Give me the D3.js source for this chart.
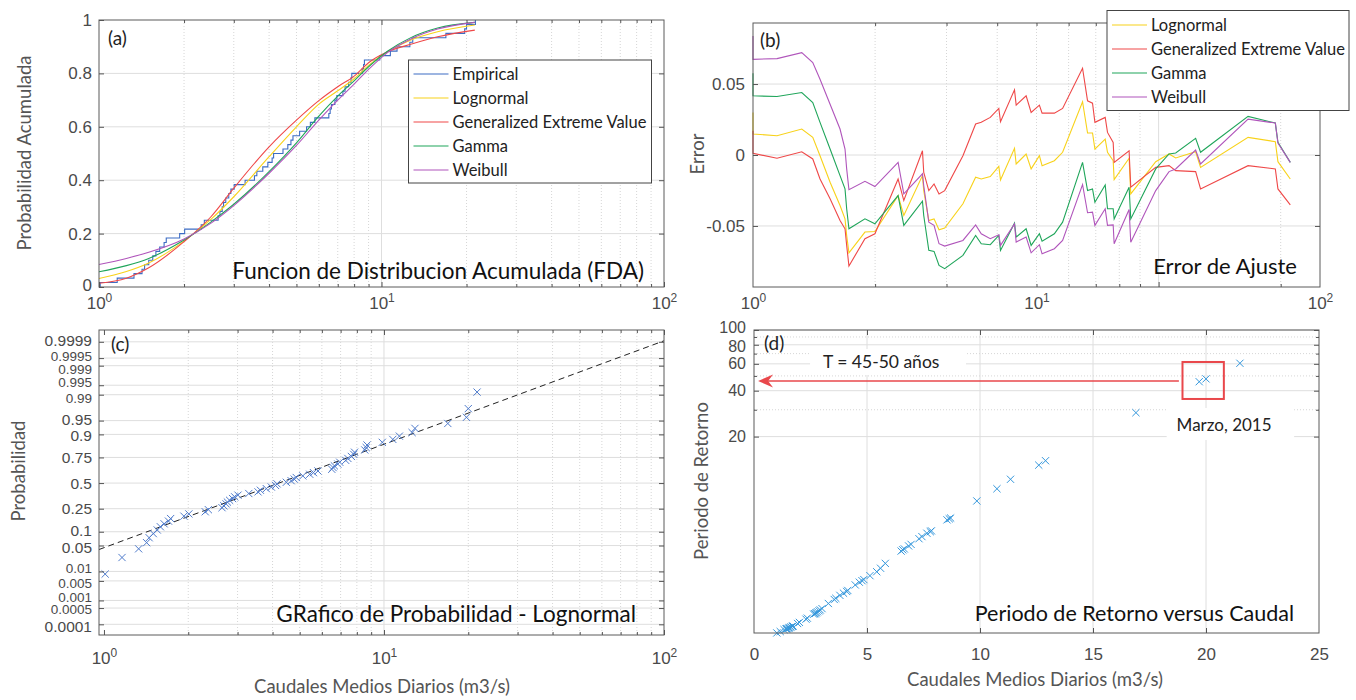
<!DOCTYPE html>
<html lang="es">
<head>
<meta charset="UTF-8">
<title>Caudales medios diarios - ajuste de distribuciones</title>
<script src="https://d3js.org/d3.v7.min.js"></script>
<style>
    body { margin: 0; background: #fff; }
    svg { display: block; font-family: Lato, "Open Sans", sans-serif; }
    .tick text { font-size: 17px; fill: #4a4a4a; }
    .tick line { stroke: #555; }
    .axis-title { font-size: 18.5px; fill: #555; }
    .panel-title { font-size: 22px; fill: #111; }
    .panel-tag { font-size: 19px; fill: #222; }
    .grid-major { stroke: #dedede; stroke-width: 1; }
    .grid-minor { stroke: #d6d6d6; stroke-width: 1; stroke-dasharray: 1,2; }
    .frame { fill: none; stroke: #5a5a5a; stroke-width: 1; }
    .legend-box { fill: #fff; stroke: #444; stroke-width: 1; }
    .legend text { font-size: 16.5px; fill: #222; }
</style>
</head>
<body>
<svg width="1356" height="700"></svg>
<script>
// ---- data ----
// sorted daily mean flows (m3/s)
const flows = [1.01, 1.16, 1.33, 1.42, 1.45, 1.50, 1.55, 1.59, 1.64, 1.70, 1.73, 1.93, 2.01, 2.30, 2.36,
    2.64, 2.68, 2.73, 2.76, 2.81, 2.88, 2.93, 3.01, 3.29, 3.55, 3.62, 3.80, 3.96, 4.10, 4.15,
    4.48, 4.66, 4.78, 4.86, 5.13, 5.43, 5.60, 5.81, 6.51, 6.58, 6.65, 6.84, 6.95, 7.30, 7.43,
    7.65, 7.80, 7.85, 8.54, 8.64, 8.70, 9.86, 10.75, 11.35, 12.6, 12.9, 16.9, 19.7, 20.0, 21.5];
// empirical cdf at each flow
const ecdf = [0.0167, 0.0333, 0.05, 0.0667, 0.0833, 0.1, 0.1167, 0.1333, 0.15, 0.1667, 0.1833, 0.2, 0.2167, 0.2333, 0.25,
    0.2667, 0.2833, 0.3, 0.3167, 0.3333, 0.35, 0.3667, 0.3833, 0.4, 0.4167, 0.4333, 0.45, 0.4667, 0.4833, 0.5,
    0.5167, 0.5333, 0.55, 0.5667, 0.5833, 0.6, 0.6167, 0.6333, 0.65, 0.6667, 0.6833, 0.7, 0.7167, 0.7333, 0.75,
    0.7667, 0.7833, 0.8, 0.8167, 0.8333, 0.85, 0.8667, 0.8833, 0.9, 0.9167, 0.9333, 0.95, 0.9667, 0.9833, 1.0];
// plotting positions used in the probability plot
const plotProb = [0.0083, 0.025, 0.0417, 0.0583, 0.075, 0.0917, 0.1083, 0.125, 0.1417, 0.1583, 0.175, 0.1917, 0.2083, 0.225, 0.2417,
    0.2583, 0.275, 0.2917, 0.3083, 0.325, 0.3417, 0.3583, 0.375, 0.3917, 0.4083, 0.425, 0.4417, 0.4583, 0.475, 0.4917,
    0.5083, 0.525, 0.5417, 0.5583, 0.575, 0.5917, 0.6083, 0.625, 0.6417, 0.6583, 0.675, 0.6917, 0.7083, 0.725, 0.7417,
    0.7583, 0.775, 0.7917, 0.8083, 0.825, 0.8417, 0.8583, 0.875, 0.8917, 0.9083, 0.925, 0.9417, 0.9583, 0.975, 0.9917];
// return period (years) for each flow
const returnPeriods = [1.032, 1.054, 1.085, 1.096, 1.10, 1.105, 1.113, 1.12, 1.13, 1.14, 1.145, 1.19, 1.21, 1.27, 1.29,
    1.37, 1.38, 1.39, 1.40, 1.42, 1.44, 1.46, 1.49, 1.61, 1.71, 1.74, 1.82, 1.88, 1.93, 1.96,
    2.13, 2.22, 2.27, 2.31, 2.45, 2.60, 2.74, 2.95, 3.55, 3.62, 3.67, 3.84, 3.93, 4.28, 4.42,
    4.65, 4.76, 4.82, 5.69, 5.78, 5.85, 7.57, 9.1, 10.5, 13.0, 13.9, 28.7, 45.8, 47.8, 60.5];

// fitted cdfs (panel a)
const cdfX         = [1, 1.25, 1.5, 2, 2.5, 3, 4, 5, 6, 7, 8, 9, 10.5, 12.7, 15.8, 21.4];
const cdfLognormal = [0.032, 0.058, 0.090, 0.172, 0.255, 0.338, 0.488, 0.600, 0.685, 0.735, 0.780, 0.830, 0.881, 0.925, 0.956, 0.981];
const cdfGEV       = [0.014, 0.033, 0.072, 0.170, 0.265, 0.370, 0.525, 0.625, 0.698, 0.750, 0.790, 0.840, 0.881, 0.909, 0.937, 0.962];
const cdfGamma     = [0.057, 0.080, 0.107, 0.176, 0.245, 0.310, 0.432, 0.540, 0.640, 0.715, 0.772, 0.825, 0.883, 0.934, 0.970, 0.991];
const cdfWeibull   = [0.084, 0.107, 0.130, 0.180, 0.240, 0.305, 0.426, 0.530, 0.625, 0.700, 0.760, 0.815, 0.878, 0.929, 0.966, 0.991];

// fit errors (panel b)
const errX = [1.0, 1.0, 1.146, 1.319, 1.404, 1.463, 1.549, 1.639, 1.686, 1.702, 1.724, 1.888, 1.998, 2.279, 2.354,
    2.617, 2.636, 2.713, 2.795, 2.875, 2.969, 3.293, 3.539, 3.654, 3.846, 4.037, 4.076, 4.413, 4.455, 4.714,
    4.850, 5.083, 5.161, 5.534, 5.799, 6.494, 6.681, 6.872, 6.966, 7.385, 7.482, 7.727, 7.770, 8.458, 8.538,
    9.838, 10.61, 11.02, 12.34, 12.69, 16.62, 19.40, 19.69, 21.12];
const errLognormal = [0.0300, 0.0148, 0.0136, 0.0183, 0.0124, -0.0005, -0.0192, -0.0356, -0.0450, -0.0567, -0.0689, -0.0543, -0.0539, -0.0286, -0.0426,
    -0.0145, -0.0251, -0.0461, -0.0450, -0.0527, -0.0515, -0.0344, -0.0157, -0.0169, -0.0152, -0.0080, -0.0176, 0.0047, -0.0063, 0.0007,
    -0.0098, -0.0005, -0.0075, -0.0040, 0.0019, 0.0375, 0.0155, 0.0155, 0.0042, 0.0112, 0.0019, -0.0040, -0.0173, -0.0023, -0.0274,
    -0.0047, 0.0007, -0.0021, 0.0023, -0.0087, 0.0124, 0.0094, -0.0047, -0.0169];
const errGEV = [0.0171, 0.0012, -0.0023, 0.0023, -0.0028, -0.0169, -0.0309, -0.0461, -0.0520, -0.0637, -0.0782, -0.0590, -0.0555, -0.0169, -0.0321,
    0.0030, -0.0122, -0.0251, -0.0204, -0.0274, -0.0251, -0.0005, 0.0218, 0.0230, 0.0265, 0.0328, 0.0234, 0.0459, 0.0351, 0.0417,
    0.0300, 0.0351, 0.0295, 0.0295, 0.0328, 0.0611, 0.0382, 0.0365, 0.0230, 0.0265, 0.0159, 0.0089, -0.0052, 0.0030, -0.0227,
    -0.0087, -0.0075, -0.0110, -0.0117, -0.0239, -0.0075, -0.0098, -0.0239, -0.0351];
const errGamma = [0.0576, 0.0417, 0.0412, 0.0440, 0.0370, 0.0230, 0.0042, -0.0145, -0.0239, -0.0379, -0.0520, -0.0450, -0.0485, -0.0286, -0.0496,
    -0.0326, -0.0426, -0.0672, -0.0679, -0.0778, -0.0801, -0.0707, -0.0567, -0.0625, -0.0632, -0.0567, -0.0672, -0.0480, -0.0578, -0.0520,
    -0.0637, -0.0555, -0.0607, -0.0555, -0.0473, -0.0052, -0.0251, -0.0239, -0.0333, -0.0211, -0.0379, -0.0379, -0.0450, -0.0227, -0.0450,
    -0.0098, 0.0007, 0.0014, 0.0117, 0.0019, 0.0272, 0.0225, 0.0089, -0.0052];
const errWeibull = [0.0838, 0.0674, 0.0679, 0.0721, 0.0651, 0.0534, 0.0358, 0.0183, 0.0042, -0.0098, -0.0244, -0.0185, -0.0222, -0.0052, -0.0274,
    -0.0133, -0.0215, -0.0473, -0.0496, -0.0625, -0.0642, -0.0602, -0.0492, -0.0555, -0.0590, -0.0562, -0.0637, -0.0485, -0.0614, -0.0578,
    -0.0689, -0.0632, -0.0696, -0.0660, -0.0602, -0.0208, -0.0407, -0.0403, -0.0496, -0.0379, -0.0496, -0.0492, -0.0625, -0.0384, -0.0614,
    -0.0251, -0.0117, -0.0098, 0.0035, -0.0063, 0.0253, 0.0225, 0.0084, -0.0052];

// reference lognormal line of the probability plot
const fitFlow = [0.96, 100];
const fitProb = [0.0401, 0.99991];

const probTicks = [0.0001, 0.0005, 0.001, 0.005, 0.01, 0.05, 0.1, 0.25, 0.5, 0.75, 0.9, 0.95, 0.99, 0.995, 0.999, 0.9995, 0.9999];
const periodTicks = [20, 40, 60, 80, 100];
const periodMinor = [30, 50, 70, 90];
const legendA = ["Empirical", "Lognormal", "Generalized Extreme Value", "Gamma", "Weibull"];
const legendB = ["Lognormal", "Generalized Extreme Value", "Gamma", "Weibull"];

const colEmp = "#3d6cc4", colLog = "#f8d21a", colGev = "#ef4848", colGam = "#1fa55a", colWei = "#b055bb";

// ---- helpers ----
const svg = d3.select("svg");
const logMinor = [2, 3, 4, 5, 6, 7, 8, 9, 20, 30, 40, 50, 60, 70, 80, 90];

function probit(p) {
    const a = [-39.69683028665376, 220.9460984245205, -275.9285104469687, 138.3577518672690, -30.66479806614716, 2.506628277459239];
    const b = [-54.47609879822406, 161.5858368580409, -155.6989798598866, 66.80131188771972, -13.28068155288572];
    const c = [-0.007784894002430293, -0.3223964580411365, -2.400758277161838, -2.549732539343734, 4.374664141464968, 2.938163982698783];
    const d = [0.007784695709041462, 0.3224671290700398, 2.445134137142996, 3.754408661907416];
    let q, r;
    if (p < 0.02425) {
        q = Math.sqrt(-2 * Math.log(p));
        return (((((c[0] * q + c[1]) * q + c[2]) * q + c[3]) * q + c[4]) * q + c[5]) / ((((d[0] * q + d[1]) * q + d[2]) * q + d[3]) * q + 1);
    }
    if (p > 1 - 0.02425) {
        q = Math.sqrt(-2 * Math.log(1 - p));
        return -(((((c[0] * q + c[1]) * q + c[2]) * q + c[3]) * q + c[4]) * q + c[5]) / ((((d[0] * q + d[1]) * q + d[2]) * q + d[3]) * q + 1);
    }
    q = p - 0.5; r = q * q;
    return (((((a[0] * r + a[1]) * r + a[2]) * r + a[3]) * r + a[4]) * r + a[5]) * q / (((((b[0] * r + b[1]) * r + b[2]) * r + b[3]) * r + b[4]) * r + 1);
}

// tick marks (inward) + optional labels through d3 axes
function axisTicks(g, axisFn, scale, values, size, tx, ty, fmt, pad) {
    const ax = axisFn(scale).tickValues(values).tickSize(-size).tickSizeOuter(0).tickPadding(pad || 6);
    ax.tickFormat(fmt || (() => ""));
    const sel = g.append("g").attr("transform", `translate(${tx},${ty})`).call(ax);
    sel.select(".domain").remove();
    return sel;
}

function powLabels(sel) {
    sel.selectAll(".tick text").text(null).each(function(d) {
        const t = d3.select(this);
        t.append("tspan").text("10");
        t.append("tspan").attr("dy", "-0.55em").attr("font-size", "12px").text(Math.round(Math.log10(d)));
    });
}

function frame(g, box) {
    g.append("rect").attr("class", "frame")
        .attr("x", box.l).attr("y", box.t)
        .attr("width", box.r - box.l).attr("height", box.b - box.t);
}

function legend(g, x, y, w, h, items, colors, y0, dy) {
    const lg = g.append("g").attr("class", "legend");
    lg.append("rect").attr("class", "legend-box").attr("x", x).attr("y", y).attr("width", w).attr("height", h);
    items.forEach((name, i) => {
        const yy = y0 + i * dy;
        lg.append("line").attr("x1", x + 5).attr("x2", x + 40).attr("y1", yy).attr("y2", yy)
            .attr("stroke", colors[i]).attr("stroke-width", 1.2);
        lg.append("text").attr("x", x + 44).attr("y", yy).attr("dy", "0.35em").text(name);
    });
}

function crosses(g, pts, color, s) {
    g.append("g").selectAll("path").data(pts).enter().append("path")
        .attr("d", d => `M${d[0] - s},${d[1] - s}L${d[0] + s},${d[1] + s}M${d[0] - s},${d[1] + s}L${d[0] + s},${d[1] - s}`)
        .attr("stroke", color).attr("stroke-width", 1).attr("fill", "none");
}

function rotLabel(x, y, txt) {
    svg.append("text").attr("class", "axis-title").attr("text-anchor", "middle")
        .attr("transform", `translate(${x},${y}) rotate(-90)`).text(txt);
}

// ================= (a) =================
const A = {l: 99, r: 664, t: 20, b: 287};
const xA = d3.scaleLog().domain([1, 100]).range([A.l, A.r]);
const yA = d3.scaleLinear().domain([0, 1]).range([A.b, A.t]);
const gA = svg.append("g");

gA.selectAll(".gx").data(logMinor).enter().append("line").attr("class", "grid-minor")
    .attr("x1", d => xA(d)).attr("x2", d => xA(d)).attr("y1", A.t).attr("y2", A.b);
gA.append("line").attr("class", "grid-major").attr("x1", xA(10)).attr("x2", xA(10)).attr("y1", A.t).attr("y2", A.b);
gA.selectAll(".gy").data([0.2, 0.4, 0.6, 0.8]).enter().append("line").attr("class", "grid-major")
    .attr("x1", A.l).attr("x2", A.r).attr("y1", d => yA(d)).attr("y2", d => yA(d));

const lineA = d3.line().x(d => xA(d[0])).y(d => yA(d[1])).curve(d3.curveMonotoneX);
const empPts = [[flows[0], 0]].concat(flows.map((f, i) => [f, ecdf[i]]));
gA.append("path").datum(empPts)
    .attr("d", d3.line().x(d => xA(d[0])).y(d => yA(d[1])).curve(d3.curveStepAfter))
    .attr("fill", "none").attr("stroke", colEmp).attr("stroke-width", 1.1);
[[cdfLognormal, colLog], [cdfGEV, colGev], [cdfGamma, colGam], [cdfWeibull, colWei]].forEach(([vals, col]) => {
    gA.append("path").datum(cdfX.map((x, i) => [x, vals[i]]))
        .attr("d", lineA).attr("fill", "none").attr("stroke", col).attr("stroke-width", 1.1);
});

frame(gA, A);
axisTicks(gA, d3.axisBottom, xA, logMinor, 3, 0, A.b);
axisTicks(gA, d3.axisTop, xA, logMinor, 3, 0, A.t);
powLabels(axisTicks(gA, d3.axisBottom, xA, [1, 10, 100], 5, 0, A.b, d => d, 10));
axisTicks(gA, d3.axisTop, xA, [10], 5, 0, A.t);
const aLeft = axisTicks(gA, d3.axisLeft, yA, [0, 0.2, 0.4, 0.6, 0.8, 1], 5, A.l, 0, d3.format("~g"), 7);
aLeft.selectAll(".tick text").filter(d => d === 0).attr("y", -2);
axisTicks(gA, d3.axisRight, yA, [0.2, 0.4, 0.6, 0.8], 5, A.r, 0);

legend(gA, 408.5, 60, 243, 123, legendA, [colEmp, colLog, colGev, colGam, colWei], 74, 24);
gA.append("text").attr("class", "panel-tag").attr("x", 108).attr("y", 45).text("(a)");
gA.append("text").attr("class", "panel-title").attr("text-anchor", "end").attr("x", 644).attr("y", 279)
    .style("font-size", "22.5px").text("Funcion de Distribucion Acumulada (FDA)");
rotLabel(31, 153, "Probabilidad Acumulada");

// ================= (b) =================
const B = {l: 753, r: 1320, t: 23, b: 287};
const xB = d3.scaleLog().domain([1, 25]).range([B.l, B.r]);
const xBlab = d3.scaleLog().domain([1, 100]).range([B.l, B.r]);
const yB = d3.scaleLinear().domain([-0.093, 0.093]).range([B.b, B.t]);
const gB = svg.append("g");
const minorB = [2, 3, 4, 5, 6, 7, 8, 9, 20];

gB.selectAll(".gx").data(minorB).enter().append("line").attr("class", "grid-minor")
    .attr("x1", d => xB(d)).attr("x2", d => xB(d)).attr("y1", B.t).attr("y2", B.b);
gB.append("line").attr("class", "grid-major").attr("x1", xB(10)).attr("x2", xB(10)).attr("y1", B.t).attr("y2", B.b);
gB.selectAll(".gy").data([-0.05, 0, 0.05]).enter().append("line").attr("class", "grid-major")
    .attr("x1", B.l).attr("x2", B.r).attr("y1", d => yB(d)).attr("y2", d => yB(d));

const lineB = d3.line().x(d => xB(d[0])).y(d => yB(d[1]));
[[errLognormal, colLog], [errGEV, colGev], [errGamma, colGam], [errWeibull, colWei]].forEach(([vals, col]) => {
    gB.append("path").datum(errX.map((x, i) => [x, vals[i]]))
        .attr("d", lineB).attr("fill", "none").attr("stroke", col).attr("stroke-width", 1.1);
});

frame(gB, B);
axisTicks(gB, d3.axisBottom, xB, minorB, 3, 0, B.b);
axisTicks(gB, d3.axisTop, xB, minorB, 3, 0, B.t);
axisTicks(gB, d3.axisBottom, xB, [10], 5, 0, B.b);
axisTicks(gB, d3.axisTop, xB, [10], 5, 0, B.t);
powLabels(axisTicks(gB, d3.axisBottom, xBlab, [1, 10, 100], 0, 0, B.b, d => d, 10));
axisTicks(gB, d3.axisLeft, yB, [-0.05, 0, 0.05], 5, B.l, 0, d => d === 0 ? "0" : d3.format(".2f")(d).replace("\u2212", "-"), 8);
axisTicks(gB, d3.axisRight, yB, [-0.05, 0, 0.05], 5, B.r, 0);

legend(gB, 1107, 10.5, 242, 100, legendB, [colLog, colGev, colGam, colWei], 25, 24);
gB.append("text").attr("class", "panel-tag").attr("x", 760).attr("y", 47).text("(b)");
gB.append("text").attr("class", "panel-title").attr("text-anchor", "end").attr("x", 1297).attr("y", 274)
    .text("Error de Ajuste");
rotLabel(704, 154, "Error");

// ================= (c) =================
const C = {l: 99, r: 664, t: 330, b: 635};
const xC = d3.scaleLog().domain([0.96, 100]).range([C.l, C.r]);
const zC = d3.scaleLinear().domain([-4.0, 4.03]).range([C.b, C.t]);
const yC = p => zC(probit(p));
const gC = svg.append("g");

gC.selectAll(".gx").data(logMinor).enter().append("line").attr("class", "grid-minor")
    .attr("x1", d => xC(d)).attr("x2", d => xC(d)).attr("y1", C.t).attr("y2", C.b);
gC.append("line").attr("class", "grid-major").attr("x1", xC(10)).attr("x2", xC(10)).attr("y1", C.t).attr("y2", C.b);
gC.selectAll(".gy").data(probTicks).enter().append("line").attr("class", "grid-major")
    .attr("x1", C.l).attr("x2", C.r).attr("y1", d => yC(d)).attr("y2", d => yC(d));

gC.append("path").datum(fitFlow.map((x, i) => [x, fitProb[i]]))
    .attr("d", d3.line().x(d => xC(d[0])).y(d => yC(d[1])))
    .attr("fill", "none").attr("stroke", "#222").attr("stroke-width", 1).attr("stroke-dasharray", "6,4");
crosses(gC, flows.map((f, i) => [xC(f), yC(plotProb[i])]), "#4f7bcb", 3.6);

frame(gC, C);
const zTicks = probTicks.map(probit);
axisTicks(gC, d3.axisBottom, xC, logMinor, 3, 0, C.b);
axisTicks(gC, d3.axisTop, xC, logMinor, 3, 0, C.t);
powLabels(axisTicks(gC, d3.axisBottom, xC, [1, 10, 100], 5, 0, C.b, d => d, 17));
axisTicks(gC, d3.axisTop, xC, [1, 10, 100], 5, 0, C.t);
const cLeft = axisTicks(gC, d3.axisLeft, zC, zTicks, 5, C.l, 0, (d, i) => String(probTicks[i]), 7);
axisTicks(gC, d3.axisRight, zC, zTicks, 5, C.r, 0);
// tightly packed tick labels: nudge apart and shrink a little
const labelShift = {0.9999: -1.5, 0.9995: -1.5, 0.999: 3.5, 0.995: -3, 0.99: 3, 0.95: -1.5, 0.9: 1.5,
    0.1: -1, 0.05: 1.5, 0.01: -3, 0.005: 2.5, 0.001: -3.5, 0.0005: 1.5, 0.0001: 2};
const labelSmall = [0.9995, 0.999, 0.995, 0.99, 0.01, 0.005, 0.001, 0.0005];
cLeft.selectAll(".tick text").each(function(d, i) {
    const p = probTicks[i];
    const t = d3.select(this).style("font-size", labelSmall.includes(p) ? "13.5px" : "15.5px");
    if (labelShift[p] !== undefined) t.attr("y", labelShift[p]);
});

gC.append("text").attr("class", "panel-tag").attr("x", 111).attr("y", 351).text("(c)");
gC.append("text").attr("class", "panel-title").attr("text-anchor", "end").attr("x", 636).attr("y", 622)
    .style("font-size", "22.5px").text("GRafico de Probabilidad - Lognormal");
rotLabel(25, 471, "Probabilidad");
svg.append("text").attr("class", "axis-title").attr("text-anchor", "middle").attr("x", 382).attr("y", 693)
    .text("Caudales Medios Diarios (m3/s)");

// ================= (d) =================
const D = {l: 754, r: 1319, t: 330, b: 633};
const xD = d3.scaleLinear().domain([0, 25]).range([D.l, D.r]);
const yD = d3.scaleLog().domain([1.031, 100]).range([D.b, D.t]);
const gD = svg.append("g");

gD.selectAll(".gx").data([5, 10, 15, 20]).enter().append("line").attr("class", "grid-major")
    .attr("x1", d => xD(d)).attr("x2", d => xD(d)).attr("y1", D.t).attr("y2", D.b);
gD.selectAll(".gy").data(periodTicks).enter().append("line").attr("class", "grid-major")
    .attr("x1", D.l).attr("x2", D.r).attr("y1", d => yD(d)).attr("y2", d => yD(d));
gD.selectAll(".gm").data(periodMinor).enter().append("line").attr("class", "grid-minor")
    .attr("x1", D.l).attr("x2", D.r).attr("y1", d => yD(d)).attr("y2", d => yD(d));

// annotation backgrounds (in data units)
const noteT = {x0: 2.48, x1: 9.38, t0: 75, t1: 50.7, tx: 3.05, ty: 56.4, size: 17.5, text: "T = 45-50 años"};
const noteM = {x0: 18.26, x1: 23.9, t0: 30.8, t1: 19.0, tx: 18.7, ty: 21.8, size: 17, text: "Marzo, 2015"};
[noteT, noteM].forEach(n => {
    gD.append("rect").attr("x", xD(n.x0)).attr("y", yD(n.t0))
        .attr("width", xD(n.x1) - xD(n.x0)).attr("height", yD(n.t1) - yD(n.t0)).attr("fill", "#fff");
    gD.append("text").attr("x", xD(n.tx)).attr("y", yD(n.ty))
        .attr("font-size", n.size).attr("fill", "#222").text(n.text);
});

crosses(gD, flows.map((f, i) => [xD(f), yD(returnPeriods[i])]), "#3497dc", 3.6);

// highlighted event and arrow to the axis
const eventBox = {x0: 18.96, x1: 20.79, t0: 61.7, t1: 35.3};
const arrowT = 46.3, arrowFrom = 18.8, arrowTo = 0.18;
gD.append("rect").attr("x", xD(eventBox.x0)).attr("y", yD(eventBox.t0))
    .attr("width", xD(eventBox.x1) - xD(eventBox.x0)).attr("height", yD(eventBox.t1) - yD(eventBox.t0))
    .attr("fill", "none").attr("stroke", "#e9474b").attr("stroke-width", 2);
const ay = yD(arrowT), ax0 = xD(arrowTo);
gD.append("line").attr("x1", xD(arrowFrom)).attr("x2", ax0 + 8).attr("y1", ay).attr("y2", ay)
    .attr("stroke", "#e9474b").attr("stroke-width", 1.5);
gD.append("path").attr("d", `M${ax0},${ay}L${ax0 + 15},${ay - 6.5}L${ax0 + 10},${ay}L${ax0 + 15},${ay + 6.5}Z`)
    .attr("fill", "#e9474b");

frame(gD, D);
axisTicks(gD, d3.axisBottom, xD, [5, 10, 15, 20], 5, 0, D.b);
axisTicks(gD, d3.axisBottom, xD, [0, 5, 10, 15, 20, 25], 0, 0, D.b, d3.format("d"), 15);
axisTicks(gD, d3.axisTop, xD, [5, 10, 15, 20], 5, 0, D.t);
const dLeft = axisTicks(gD, d3.axisLeft, yD, periodTicks, 5, D.l, 0, d3.format("d"), 8);
dLeft.selectAll(".tick text").style("font-size", "16px")
    .attr("y", d => d === 100 ? -2.5 : d === 80 ? 2 : 0);
axisTicks(gD, d3.axisLeft, yD, periodMinor, 3, D.l, 0);
axisTicks(gD, d3.axisRight, yD, periodTicks, 5, D.r, 0);
axisTicks(gD, d3.axisRight, yD, periodMinor, 3, D.r, 0);

gD.append("text").attr("class", "panel-tag").attr("x", 764).attr("y", 350).text("(d)");
gD.append("text").attr("class", "panel-title").attr("text-anchor", "end").attr("x", 1294).attr("y", 621)
    .style("font-size", "21.5px").text("Periodo de Retorno versus Caudal");
rotLabel(708, 481, "Periodo de Retorno");
svg.append("text").attr("class", "axis-title").attr("text-anchor", "middle").attr("x", 1035).attr("y", 686)
    .text("Caudales Medios Diarios (m3/s)");
</script>
</body>
</html>
